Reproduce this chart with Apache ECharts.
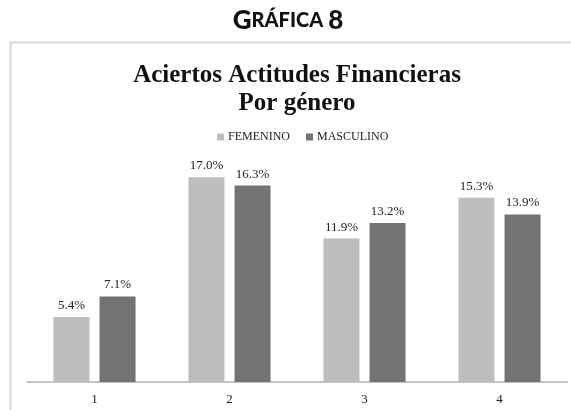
<!DOCTYPE html>
<html>
<head>
<meta charset="utf-8">
<script src="https://cdn.jsdelivr.net/npm/echarts@6/dist/echarts.min.js"></script>
<style>
  html, body { margin: 0; padding: 0; background: #fff; }
  #chart { width: 571px; height: 410px; }
</style>
</head>
<body>
<div id="chart"></div>
<script>
// datos
var categorias = ['1', '2', '3', '4']
var femenino = [5.4, 17.0, 11.9, 15.3]
var masculino = [7.1, 16.3, 13.2, 13.9]
var nombres = ['FEMENINO', 'MASCULINO']

var myChart = echarts.init(document.getElementById('chart'))

var etiqueta = {
  show: true,
  position: 'top',
  distance: 5,
  color: '#222',
  fontFamily: 'Liberation Serif',
  fontSize: 13,
  formatter: function (p) { return p.value.toFixed(1) + '%' }
}

var option = {
  animation: false,
  backgroundColor: '#fff',
  title: [{
    text: '{a|G}{b|RÁFICA} {a|8}',
    left: 283,
    textAlign: 'center',
    top: 3,
    textStyle: {
      rich: {
        a: { fontFamily: 'Lato', fontWeight: 900, fontSize: 26, color: '#111' },
        b: { fontFamily: 'Lato', fontWeight: 900, fontSize: 20, color: '#111' }
      }
    }
  }, {
    text: 'Aciertos Actitudes Financieras\nPor género',
    left: 292,
    textAlign: 'center',
    top: 57,
    textStyle: {
      fontFamily: 'Liberation Serif',
      fontWeight: 'bold',
      fontSize: 25,
      lineHeight: 28,
      color: '#111'
    }
  }],
  graphic: [{
    type: 'polyline',
    shape: { points: [[10.5, 410], [10.5, 42.5], [571, 42.5]] },
    style: { stroke: '#d6d6d6', lineWidth: 2, fill: null }
  }],
  legend: {
    data: nombres,
    left: 212,
    top: 126,
    itemWidth: 7,
    itemHeight: 7,
    itemGap: 16,
    icon: 'rect',
    textStyle: { fontFamily: 'Liberation Serif', fontSize: 12, color: '#222', padding: [0, 0, 0, -1] }
  },
  grid: {
    left: 27,
    right: 4,
    top: 141,
    bottom: 28
  },
  xAxis: {
    type: 'category',
    data: categorias,
    axisLine: { lineStyle: { color: '#c4c4c4', width: 2 } },
    axisTick: { show: false },
    axisLabel: { color: '#222', fontFamily: 'Liberation Serif', fontSize: 13, margin: 11 }
  },
  yAxis: {
    type: 'value',
    min: 0,
    max: 20,
    show: false,
    splitLine: { show: false }
  },
  series: [{
    name: nombres[0],
    type: 'bar',
    data: femenino,
    barWidth: 36,
    barGap: '28%',
    itemStyle: { color: '#bdbdbd' },
    label: etiqueta
  }, {
    name: nombres[1],
    type: 'bar',
    data: masculino,
    barWidth: 36,
    barGap: '28%',
    itemStyle: { color: '#737373' },
    label: etiqueta
  }]
}
myChart.setOption(option)
</script>
</body>
</html>
